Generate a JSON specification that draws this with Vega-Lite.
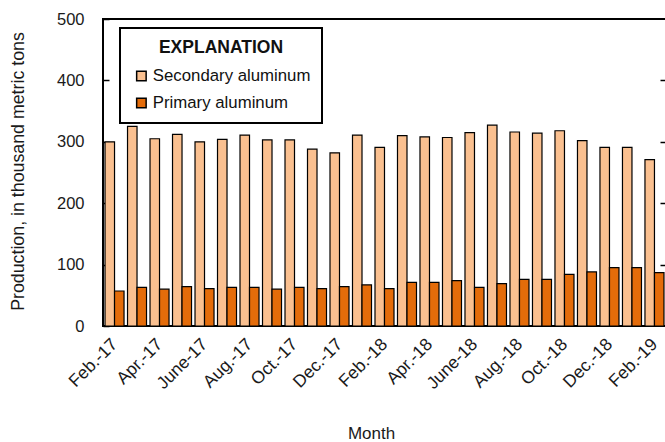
{
  "$schema": "https://vega.github.io/schema/vega-lite/v6.json",
  "width": 563,
  "height": 307,
  "autosize": "none",
  "padding": {"left": 103, "top": 19, "right": 0, "bottom": 116},
  "background": "white",
  "config": {
    "font": "Liberation Sans, Arial, sans-serif",
    "view": {"stroke": "#000", "strokeWidth": 2},
    "axis": {"labelColor": "#1a1a1a", "titleColor": "#1a1a1a", "labelFont": "Liberation Sans, Arial, sans-serif", "titleFont": "Liberation Sans, Arial, sans-serif"},
    "legend": {"labelFont": "Liberation Sans, Arial, sans-serif", "titleFont": "Liberation Sans, Arial, sans-serif", "strokeWidth": 2}
  },
  "data": {
    "values": [
      {"month": "Feb.-17", "type": "Secondary aluminum", "value": 300},
      {"month": "Feb.-17", "type": "Primary aluminum", "value": 57},
      {"month": "Mar.-17", "type": "Secondary aluminum", "value": 325},
      {"month": "Mar.-17", "type": "Primary aluminum", "value": 63},
      {"month": "Apr.-17", "type": "Secondary aluminum", "value": 305},
      {"month": "Apr.-17", "type": "Primary aluminum", "value": 60},
      {"month": "May-17", "type": "Secondary aluminum", "value": 312},
      {"month": "May-17", "type": "Primary aluminum", "value": 64},
      {"month": "June-17", "type": "Secondary aluminum", "value": 300},
      {"month": "June-17", "type": "Primary aluminum", "value": 61},
      {"month": "July-17", "type": "Secondary aluminum", "value": 304},
      {"month": "July-17", "type": "Primary aluminum", "value": 63},
      {"month": "Aug.-17", "type": "Secondary aluminum", "value": 311},
      {"month": "Aug.-17", "type": "Primary aluminum", "value": 63},
      {"month": "Sept.-17", "type": "Secondary aluminum", "value": 303},
      {"month": "Sept.-17", "type": "Primary aluminum", "value": 60},
      {"month": "Oct.-17", "type": "Secondary aluminum", "value": 303},
      {"month": "Oct.-17", "type": "Primary aluminum", "value": 63},
      {"month": "Nov.-17", "type": "Secondary aluminum", "value": 288},
      {"month": "Nov.-17", "type": "Primary aluminum", "value": 61},
      {"month": "Dec.-17", "type": "Secondary aluminum", "value": 282},
      {"month": "Dec.-17", "type": "Primary aluminum", "value": 64},
      {"month": "Jan.-18", "type": "Secondary aluminum", "value": 311},
      {"month": "Jan.-18", "type": "Primary aluminum", "value": 67},
      {"month": "Feb.-18", "type": "Secondary aluminum", "value": 291},
      {"month": "Feb.-18", "type": "Primary aluminum", "value": 61},
      {"month": "Mar.-18", "type": "Secondary aluminum", "value": 310},
      {"month": "Mar.-18", "type": "Primary aluminum", "value": 71},
      {"month": "Apr.-18", "type": "Secondary aluminum", "value": 308},
      {"month": "Apr.-18", "type": "Primary aluminum", "value": 71},
      {"month": "May-18", "type": "Secondary aluminum", "value": 307},
      {"month": "May-18", "type": "Primary aluminum", "value": 74},
      {"month": "June-18", "type": "Secondary aluminum", "value": 315},
      {"month": "June-18", "type": "Primary aluminum", "value": 63},
      {"month": "July-18", "type": "Secondary aluminum", "value": 327},
      {"month": "July-18", "type": "Primary aluminum", "value": 69},
      {"month": "Aug.-18", "type": "Secondary aluminum", "value": 316},
      {"month": "Aug.-18", "type": "Primary aluminum", "value": 76},
      {"month": "Sept.-18", "type": "Secondary aluminum", "value": 314},
      {"month": "Sept.-18", "type": "Primary aluminum", "value": 76},
      {"month": "Oct.-18", "type": "Secondary aluminum", "value": 318},
      {"month": "Oct.-18", "type": "Primary aluminum", "value": 84},
      {"month": "Nov.-18", "type": "Secondary aluminum", "value": 302},
      {"month": "Nov.-18", "type": "Primary aluminum", "value": 88},
      {"month": "Dec.-18", "type": "Secondary aluminum", "value": 291},
      {"month": "Dec.-18", "type": "Primary aluminum", "value": 95},
      {"month": "Jan.-19", "type": "Secondary aluminum", "value": 291},
      {"month": "Jan.-19", "type": "Primary aluminum", "value": 95},
      {"month": "Feb.-19", "type": "Secondary aluminum", "value": 271},
      {"month": "Feb.-19", "type": "Primary aluminum", "value": 87}
    ]
  },
  "layer": [
    {
      "mark": {"type": "bar", "stroke": "#000", "strokeWidth": 1.2},
      "encoding": {
        "x": {
          "field": "month", "type": "nominal", "sort": null,
          "scale": {"paddingInner": 0.155, "paddingOuter": 0.09},
          "axis": {
            "title": "Month", "titleFontSize": 17, "titleFontWeight": "normal",
            "titleX": 268, "titleY": 107, "titleBaseline": "middle", "titleAnchor": "start", "titleAlign": "center",
            "values": ["Feb.-17", "Apr.-17", "June-17", "Aug.-17", "Oct.-17", "Dec.-17", "Feb.-18", "Apr.-18", "June-18", "Aug.-18", "Oct.-18", "Dec.-18", "Feb.-19"],
            "labelAngle": -45, "labelFontSize": 17.5, "labelPadding": 9, "labelOffset": -6, "labelLimit": 0,
            "ticks": false, "domain": false
          }
        },
        "xOffset": {"field": "type", "type": "nominal", "sort": ["Secondary aluminum", "Primary aluminum"]},
        "y": {
          "field": "value", "type": "quantitative",
          "scale": {"domain": [0, 500]},
          "axis": {
            "title": "Production, in thousand metric tons", "titleFontSize": 17.8, "titleFontWeight": "normal",
            "titleX": -85, "titleY": 152, "titleAngle": -90, "titleAlign": "center", "titleBaseline": "middle", "titleAnchor": "start", "titleLimit": 0,
            "values": [0, 100, 200, 300, 400, 500], "labelFontSize": 16.5,
            "tickSize": -6, "tickColor": "#000", "tickWidth": 1.5, "labelPadding": 25,
            "grid": false, "domain": false
          }
        },
        "color": {
          "field": "type", "type": "nominal",
          "scale": {"domain": ["Secondary aluminum", "Primary aluminum"], "range": ["#FAC090", "#E46C0A"]},
          "legend": {
            "title": "EXPLANATION", "orient": "none", "legendX": 17, "legendY": 9,
            "titleAnchor": "middle", "titleFontSize": 17.5, "titleFontWeight": "bold", "titleColor": "#111", "titlePadding": 11,
            "labelFontSize": 16.8, "labelColor": "#111", "labelOffset": 3, "labelLimit": 0,
            "symbolType": "square", "symbolSize": 90, "symbolStrokeColor": "#000", "symbolStrokeWidth": 1.5, "symbolOffset": 2,
            "strokeColor": "#000", "fillColor": "white", "padding": 11, "rowPadding": 9
          }
        }
      }
    },
    {
      "mark": {"type": "rule", "opacity": 0},
      "encoding": {
        "y": {
          "field": "value", "type": "quantitative",
          "axis": {"orient": "right", "title": null, "labels": false, "domain": false, "grid": false, "values": [100, 200, 300, 400], "tickSize": -6, "tickColor": "#000", "tickWidth": 1.5}
        }
      }
    }
  ],
  "resolve": {"axis": {"y": "independent"}}
}
